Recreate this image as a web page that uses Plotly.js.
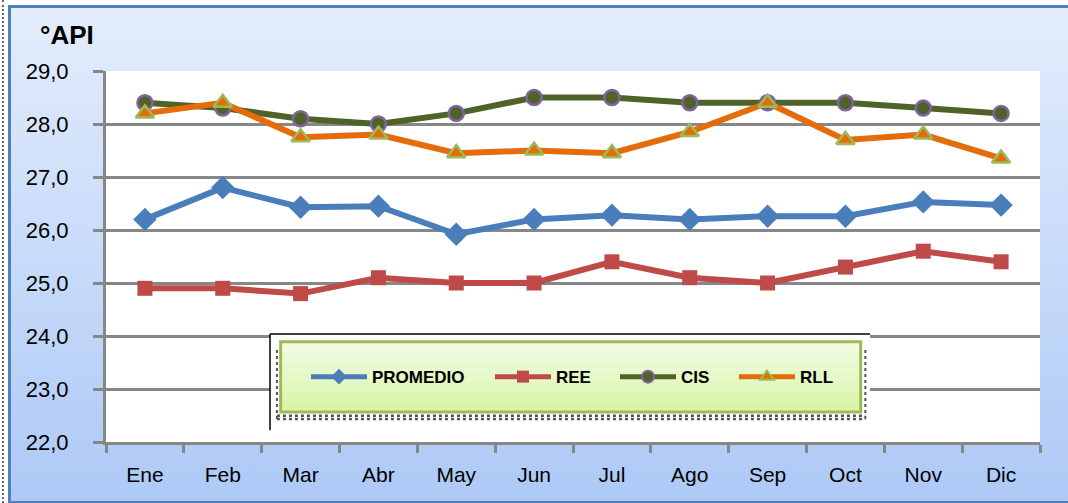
<!DOCTYPE html>
<html>
<head>
<meta charset="utf-8">
<script src="https://cdn.plot.ly/plotly-3.0.1.min.js"></script>
<style>
  body { margin: 0; background: #ffffff; }
  #wrap { position: relative; width: 1068px; height: 503px; overflow: hidden; }
  #dots { position: absolute; left: 2px; top: 0; width: 0; height: 503px; border-left: 2px dotted #666; }
  #frame { position: absolute; left: 8px; top: 5px; width: 1070px; height: 493px;
           border: 3px solid #4f81bd; border-right: none;
           background: linear-gradient(#e3edfc, #adc9f6); }
  #asthmaPlot { position: absolute; left: 0; top: 0; width: 1068px; height: 503px; }
</style>
</head>
<body>
<div id="wrap">
  <div id="dots"></div>
  <div id="frame"></div>
  <div id="asthmaPlot"></div>
</div>
<script>
// data
var months = ['Ene', 'Feb', 'Mar', 'Abr', 'May', 'Jun', 'Jul', 'Ago', 'Sep', 'Oct', 'Nov', 'Dic'];
var promedio = [26.2, 26.8, 26.43, 26.45, 25.92, 26.2, 26.28, 26.2, 26.26, 26.26, 26.53, 26.47];
var ree = [24.9, 24.9, 24.8, 25.1, 25.0, 25.0, 25.4, 25.1, 25.0, 25.3, 25.6, 25.4];
var cis = [28.4, 28.3, 28.1, 28.0, 28.2, 28.5, 28.5, 28.4, 28.4, 28.4, 28.3, 28.2];
var rll = [28.2, 28.4, 27.75, 27.8, 27.45, 27.5, 27.45, 27.85, 28.4, 27.7, 27.8, 27.35];

// draw plot
var trace1 = {
    x: months, y: promedio, name: 'PROMEDIO', mode: 'lines+markers', legend: 'legend',
    line: { color: '#4a7ebb', width: 6 },
    marker: { symbol: 'diamond', size: 18, color: '#4a7ebb' }
};
var trace2 = {
    x: months, y: ree, name: 'REE', mode: 'lines+markers', legend: 'legend2',
    line: { color: '#be4b48', width: 6 },
    marker: { symbol: 'square', size: 15, color: '#be4b48' }
};
var trace3 = {
    x: months, y: cis, name: 'CIS', mode: 'lines+markers', legend: 'legend3',
    line: { color: '#4f6228', width: 6 },
    marker: { symbol: 'circle', size: 15, color: '#4f6228', line: { color: '#8064a2', width: 2.5 } }
};
var trace4 = {
    x: months, y: rll, name: 'RLL', mode: 'lines+markers', legend: 'legend4',
    line: { color: '#e46c0a', width: 6 },
    marker: { symbol: 'triangle-up', size: 16, color: '#e46c0a', line: { color: '#9bbb59', width: 2.5 } }
};

var data = [trace1, trace2, trace3, trace4];

function legendAt(px) {
    return {
        orientation: 'h', x: (px - 106) / 934, xanchor: 'left', y: 0.175, yanchor: 'middle',
        bgcolor: 'rgba(0,0,0,0)', borderwidth: 0, itemwidth: 56, itemsizing: 'constant',
        font: { size: 17, color: '#000000', weight: 'bold' }
    };
}

// legend box: white backing, dotted shadow, green gradient made of bands
var shapes = [
    { type: 'rect', xref: 'paper', yref: 'paper', layer: 'above',
      x0: 0.1756, x1: 0.818, y0: 0.032, y1: 0.291, fillcolor: '#ffffff', line: { width: 0 } },
    { type: 'line', xref: 'paper', yref: 'paper', layer: 'above',
      x0: 0.1756, x1: 0.818, y0: 0.291, y1: 0.291, line: { color: '#000000', width: 1.5 } },
    { type: 'line', xref: 'paper', yref: 'paper', layer: 'above',
      x0: 0.1756, x1: 0.1756, y0: 0.032, y1: 0.291, line: { color: '#000000', width: 1.5 } },
    { type: 'line', xref: 'paper', yref: 'paper', layer: 'above',
      x0: 0.183, x1: 0.813, y0: 0.071, y1: 0.071, line: { color: '#555555', width: 2.5, dash: 'dot' } },
    { type: 'line', xref: 'paper', yref: 'paper', layer: 'above',
      x0: 0.183, x1: 0.813, y0: 0.062, y1: 0.062, line: { color: '#555555', width: 2.5, dash: 'dot' } },
    { type: 'line', xref: 'paper', yref: 'paper', layer: 'above',
      x0: 0.183, x1: 0.183, y0: 0.062, y1: 0.255, line: { color: '#555555', width: 2, dash: 'dot' } },
    { type: 'line', xref: 'paper', yref: 'paper', layer: 'above',
      x0: 0.813, x1: 0.813, y0: 0.062, y1: 0.255, line: { color: '#555555', width: 2, dash: 'dot' } }
];
var bandColors = ['#d9f5aa', '#ddf6b3', '#e1f7bd', '#e5f8c6', '#e9f9cf', '#edfad8', '#f0fbe0'];
var by0 = 0.081, by1 = 0.27;
bandColors.forEach(function (c, i) {
    var h = (by1 - by0) / bandColors.length;
    shapes.push({ type: 'rect', xref: 'paper', yref: 'paper', layer: 'above',
        x0: 0.187, x1: 0.808, y0: by0 + i * h, y1: by0 + (i + 1) * h + 0.001,
        fillcolor: c, line: { width: 0 } });
});
shapes.push({ type: 'rect', xref: 'paper', yref: 'paper', layer: 'above',
    x0: 0.187, x1: 0.808, y0: by0, y1: by1, fillcolor: 'rgba(0,0,0,0)', line: { color: '#9bbb59', width: 3 } });

var layout = {
    width: 1068, height: 503,
    margin: { l: 106, r: 28, t: 71, b: 61 },
    paper_bgcolor: 'rgba(0,0,0,0)',
    plot_bgcolor: '#ffffff',
    separators: ',.',
    font: { family: 'Liberation Sans, Arial, sans-serif', color: '#000000' },
    showlegend: true,
    legend: legendAt(306),
    legend2: legendAt(490),
    legend3: legendAt(615),
    legend4: legendAt(734),
    xaxis: {
        type: 'category', range: [-0.5, 11.5], showgrid: false,
        showline: true, linecolor: '#878787', linewidth: 3,
        ticks: 'outside', tickson: 'boundaries', ticklen: 8, tickwidth: 3, tickcolor: '#878787',
        tickfont: { size: 21 }, ticklabelstandoff: 12
    },
    yaxis: {
        range: [22, 29], dtick: 1, tickformat: '.1f',
        showgrid: true, gridcolor: '#878787', gridwidth: 3, zeroline: false,
        showline: true, linecolor: '#878787', linewidth: 3,
        ticks: 'outside', ticklen: 10, tickwidth: 3, tickcolor: '#878787',
        tickfont: { size: 22 }, ticklabelstandoff: 20
    },
    annotations: [{
        xref: 'paper', yref: 'paper', x: -0.073, y: 1.097, xanchor: 'left', yanchor: 'middle',
        text: '°API', showarrow: false, font: { size: 26, weight: 'bold' }
    }],
    shapes: shapes
};

Plotly.newPlot('asthmaPlot', data, layout, { displayModeBar: false });
</script>
</body>
</html>
